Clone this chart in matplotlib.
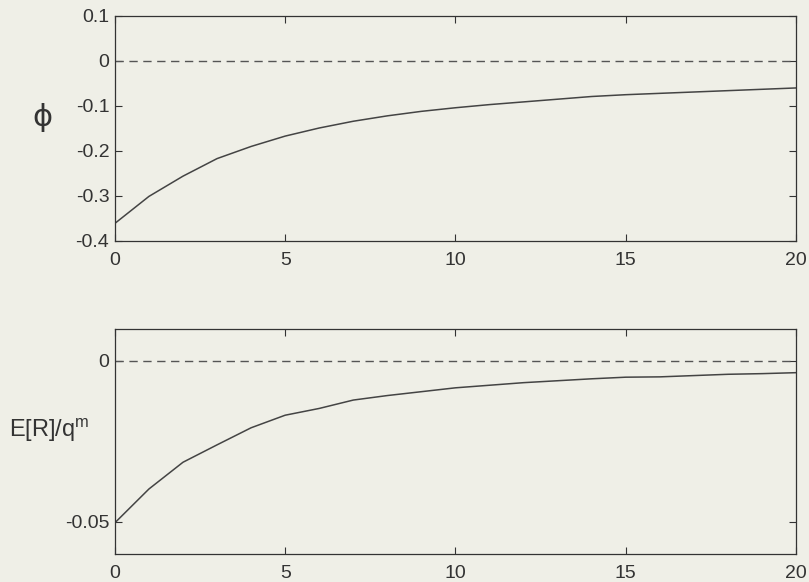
import matplotlib
matplotlib.use("Agg")
import matplotlib.pyplot as plt
import numpy as np

plt.rcParams['font.family'] = ['Liberation Sans', 'DejaVu Sans']

n = np.arange(0, 21)
phi = [-0.361, -0.301, -0.256, -0.217, -0.190, -0.167, -0.149, -0.134, -0.122,
       -0.112, -0.104, -0.097, -0.091, -0.085, -0.079, -0.075, -0.072, -0.069,
       -0.066, -0.063, -0.060]
ER = [-0.0503, -0.0398, -0.0315, -0.0261, -0.0208, -0.0169, -0.0148, -0.0122,
      -0.0108, -0.0096, -0.0084, -0.0076, -0.0068, -0.0062, -0.0056, -0.0051,
      -0.0050, -0.0046, -0.0042, -0.0040, -0.0037]

bg = '#efefe7'
ink = '#333333'
fig = plt.figure(figsize=(8.09, 5.82), dpi=100, facecolor=bg)

ax1 = fig.add_axes([0.142, 0.586, 0.842, 0.3866], facecolor=bg)
ax2 = fig.add_axes([0.142, 0.048, 0.842, 0.3875], facecolor=bg)

def style(ax):
    ax.set_xlim(0, 20)
    ax.set_xticks([0, 5, 10, 15, 20])
    ax.tick_params(direction='in', top=True, right=True, length=5, width=0.8,
                   labelsize=14, colors=ink)
    ax.tick_params(axis='x', pad=8)
    ax.tick_params(axis='y', pad=4)
    for s in ax.spines.values():
        s.set_color(ink)
        s.set_linewidth(0.9)

ax1.plot(n, phi, color='#444444', lw=1.1)
ax1.axhline(0, color='#555555', lw=1.0, linestyle=(0, (6, 4)))
ax1.set_ylim(-0.4, 0.1)
ax1.set_yticks([0.1, 0, -0.1, -0.2, -0.3, -0.4])
ax1.set_yticklabels(['0.1', '0', '-0.1', '-0.2', '-0.3', '-0.4'])
style(ax1)
ax1.set_ylabel('\u03d5', rotation=0, fontsize=22, color=ink,
               family=['DejaVu Sans'], va='center', ha='center')
ax1.yaxis.set_label_coords(-0.106, 0.55)

ax2.plot(n, ER, color='#444444', lw=1.1)
ax2.axhline(0, color='#555555', lw=1.0, linestyle=(0, (6, 4)))
ax2.set_ylim(-0.06, 0.01)
ax2.set_yticks([0, -0.05])
ax2.set_yticklabels(['0', '-0.05'])
style(ax2)
ax2.set_ylabel('E[R]/q$^{\\mathregular{m}}$', rotation=0, fontsize=17, color=ink,
               va='center', ha='center')
ax2.yaxis.set_label_coords(-0.097, 0.55)

plt.savefig('out.png', dpi=100, facecolor=bg)
